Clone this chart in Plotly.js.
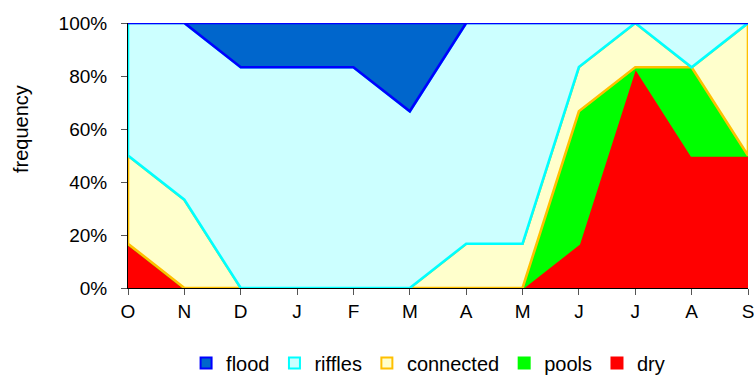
<!DOCTYPE html>
<html>
<head>
<meta charset="utf-8">
<script src="https://cdn.plot.ly/plotly-3.0.1.min.js"></script>
<style>html,body{margin:0;padding:0;background:#fff;}#chart{width:754px;height:376px;}</style>
</head>
<body>
<div id="chart"></div>
<script>
// Data (percent of observations per month)
var months = ["O","N","D","J","F","M","A","M","J","J","A","S"];
var dry       = [16.7, 0, 0, 0, 0, 0, 0, 0, 16.7, 83.3, 50, 50];
var pools     = [0, 0, 0, 0, 0, 0, 0, 0, 50, 0, 33.3, 0];
var connected = [33.3, 33.3, 0, 0, 0, 0, 16.7, 16.7, 16.7, 16.7, 0, 50];
var riffles   = [50, 66.7, 83.3, 83.3, 83.3, 66.7, 83.3, 83.3, 16.7, 0, 16.7, 0];
var flood     = [0, 0, 16.7, 16.7, 16.7, 33.3, 0, 0, 0, 0, 0, 0];
var yTicks = [0, 20, 40, 60, 80, 100];
var yTickText = ["0%", "20%", "40%", "60%", "80%", "100%"];

var series = [
  {name: "dry", v: dry, fill: "#FF0000", line: "#FF0000"},
  {name: "pools", v: pools, fill: "#00FF00", line: "#00FF00"},
  {name: "connected", v: connected, fill: "#FFFFCC", line: "#FFC000"},
  {name: "riffles", v: riffles, fill: "#CCFFFF", line: "#00FFFF"},
  {name: "flood", v: flood, fill: "#0066CC", line: "#0000FF"}
];

var xs = months.map(function(_, i){ return i; });
var base = months.map(function(){ return 0; });
var traces = [];
series.forEach(function(s){
  var top = base.map(function(b, i){ return b + s.v[i]; });
  var px = xs.concat(xs.slice().reverse()).concat([xs[0]]);
  var py = top.concat(base.slice().reverse()).concat([top[0]]);
  traces.push({
    type: "scatter", mode: "lines", name: s.name, showlegend: false,
    x: px, y: py, fill: "toself", fillcolor: s.fill,
    line: {color: s.line, width: 2.6, shape: "linear"},
    hoverinfo: "skip"
  });
  base = top;
});
// legend entries (square swatches)
series.forEach(function(s){
  traces.push({
    type: "scatter", mode: "markers", name: s.name, x: [null], y: [null],
    marker: {symbol: "square", size: 11, color: s.fill, line: {color: s.line, width: 2}},
    showlegend: true, hoverinfo: "skip"
  });
});

var layout = {
  width: 754, height: 376,
  margin: {l: 128, r: 6, t: 23, b: 88, autoexpand: false},
  paper_bgcolor: "#ffffff", plot_bgcolor: "#ffffff",
  font: {family: "Liberation Sans, Arial, sans-serif", size: 19, color: "#000"},
  showlegend: true,
  legend: {orientation: "h", x: 0.484, xanchor: "center", y: -0.283, yanchor: "middle",
           traceorder: "reversed", font: {size: 20}, itemwidth: 30, tracegroupgap: 0},
  xaxis: {range: [0, 11], tickmode: "array", tickvals: xs, ticktext: months,
          showgrid: false, zeroline: false, showline: true, linecolor: "#000", linewidth: 1,
          ticks: "outside", ticklen: 6, tickcolor: "#555", tickfont: {size: 19},
          ticklabeloverflow: "allow", fixedrange: true},
  yaxis: {range: [0, 100], tickmode: "array", tickvals: yTicks, ticktext: yTickText,
          showgrid: false, zeroline: false, showline: true, linecolor: "#000", linewidth: 1,
          ticks: "outside", ticklen: 6, tickcolor: "#555", tickfont: {size: 19},
          ticklabelstandoff: 10, fixedrange: true},
  annotations: [{text: "frequency", textangle: -90, xref: "paper", yref: "paper",
                 x: 0, xanchor: "center", xshift: -107, y: 0.6, yanchor: "middle",
                 showarrow: false, font: {size: 20}}]
};

Plotly.newPlot("chart", traces, layout, {displayModeBar: false, staticPlot: true});
</script>
</body>
</html>
